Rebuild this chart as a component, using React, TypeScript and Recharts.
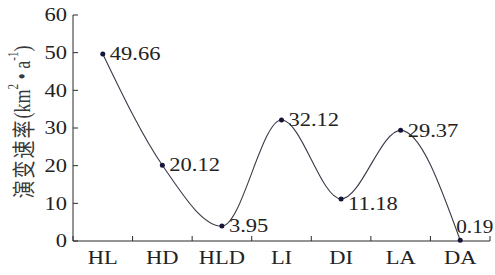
import React from "react";
import { LineChart, Line, XAxis, YAxis, LabelList } from "recharts";

const categories = ["HL", "HD", "HLD", "LI", "DI", "LA", "DA"];
const values = [49.66, 20.12, 3.95, 32.12, 11.18, 29.37, 0.19];
const valueLabels = ["49.66", "20.12", "3.95", "32.12", "11.18", "29.37", "0.19"];
const yTicks = [0, 10, 20, 30, 40, 50, 60];

const data = categories.map((c, i) => ({ pos: i + 0.5, name: c, value: values[i], label: valueLabels[i] }));
const xTicks: number[] = [];
for (let i = 0; i <= categories.length; i++) {
  xTicks.push(i);
  if (i < categories.length) xTicks.push(i + 0.5);
}

const FONT = "'Liberation Serif', 'Times New Roman', serif";
const SX = 1.25;
const INK = "#2a2a2a";

const XTick = (props: any) => {
  const { x, y, payload } = props;
  const v = payload.value as number;
  if (Number.isInteger(v)) {
    return <line x1={x} y1={y} x2={x} y2={y - 5} stroke={INK} strokeWidth={1} />;
  }
  const name = categories[Math.floor(v)];
  return (
    <text
      transform={`translate(${x},${y + 23}) scale(${SX},1)`}
      textAnchor="middle"
      fontFamily={FONT}
      fontSize={18}
      fill="#222"
    >
      {name}
    </text>
  );
};

const YTick = (props: any) => {
  const { x, y, payload } = props;
  return (
    <g>
      <line x1={x} y1={y} x2={x + 5} y2={y} stroke={INK} strokeWidth={1} />
      <text
        transform={`translate(${x - 6},${y}) scale(${SX},1)`}
        textAnchor="end"
        dominantBaseline="central"
        fontFamily={FONT}
        fontSize={18}
        fill="#222"
      >
        {payload.value}
      </text>
    </g>
  );
};

const ValueLabel = (props: any) => {
  const { x, y, index } = props;
  const last = index === values.length - 1;
  const lx = last ? x - 4 : x + 7;
  const ly = last ? y - 14 : y + (index === 4 ? 5 : 0);
  return (
    <text
      transform={`translate(${lx},${ly}) scale(${last ? 1.18 : SX},1)`}
      dominantBaseline="central"
      fontFamily={FONT}
      fontSize={18}
      fill="#222"
    >
      {valueLabels[index]}
    </text>
  );
};

const YLabel = () => (
  <text
    transform={`translate(22,122) scale(${SX},1) rotate(-90)`}
    textAnchor="middle"
    dominantBaseline="central"
    fontSize={18}
    fill="#3a3a3a"
  >
    <tspan fontFamily="'Noto Sans CJK SC', sans-serif" letterSpacing={2}>演变速率</tspan>
    <tspan fontFamily={FONT}>(km</tspan>
    <tspan fontFamily={FONT} fontSize={11} dy={-7}>2</tspan>
    <tspan fontFamily={FONT} dy={7}> • a</tspan>
    <tspan fontFamily={FONT} fontSize={11} dy={-7}>-1</tspan>
    <tspan fontFamily={FONT} dy={7}>)</tspan>
  </text>
);

export default function App() {
  return (
    <div style={{ position: "absolute", left: 0, top: 0, width: 495, height: 275, background: "#fff" }}>
      <LineChart width={495} height={275} data={data} margin={{ top: 15, right: 5, bottom: 0, left: 0 }}>
        <XAxis
          dataKey="pos"
          type="number"
          domain={[0, categories.length]}
          ticks={xTicks}
          interval={0}
          tickSize={0}
          tickMargin={0}
          tickLine={false}
          tick={<XTick />}
          height={34}
          axisLine={{ stroke: INK, strokeWidth: 1 }}
          allowDecimals
        />
        <YAxis
          type="number"
          domain={[0, 60]}
          ticks={yTicks}
          interval={0}
          tickSize={0}
          tickMargin={0}
          tickLine={false}
          tick={<YTick />}
          width={73}
          axisLine={{ stroke: INK, strokeWidth: 1 }}
        />
        <Line
          type="monotone"
          dataKey="value"
          stroke="#3a3a48"
          strokeWidth={1.1}
          dot={{ r: 2.5, fill: "#15153a", stroke: "none" }}
          isAnimationActive={false}
        >
          <LabelList dataKey="label" content={<ValueLabel />} />
        </Line>
        <YLabel />
      </LineChart>
    </div>
  );
}
